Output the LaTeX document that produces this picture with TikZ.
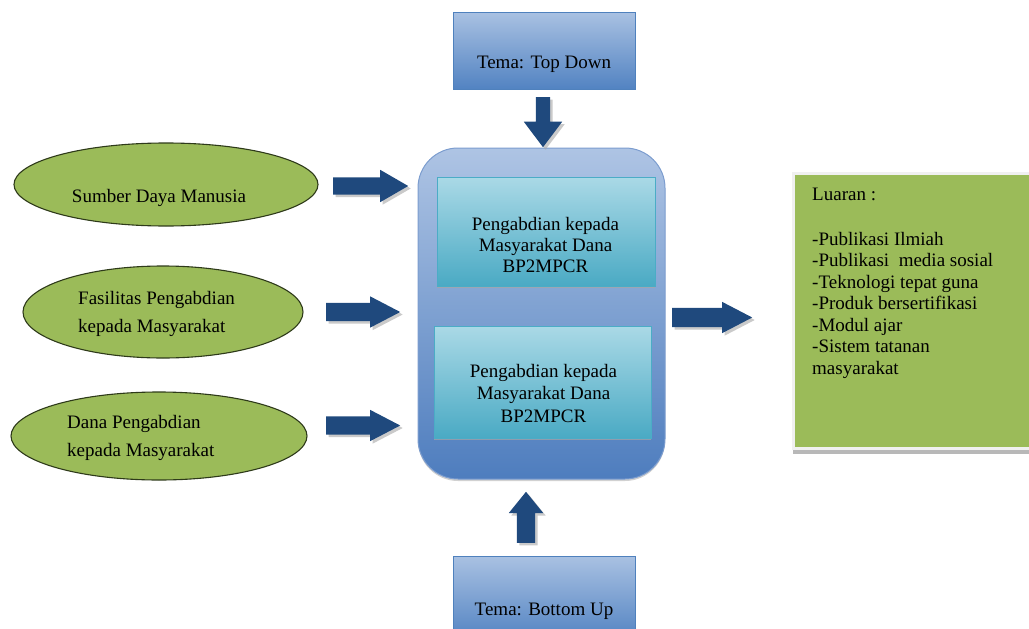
\documentclass[tikz,border=0pt]{standalone}
\usepackage{fontspec}
\setmainfont{Liberation Serif}
\usetikzlibrary{shapes.geometric,shapes.arrows,shadows}
\definecolor{arrowblue}{HTML}{1F497D}
\definecolor{boxtop}{HTML}{A9C1E2}
\definecolor{boxbot}{HTML}{5283C2}
\definecolor{boxline}{HTML}{4F81BD}
\definecolor{bigtop}{HTML}{AEC4E4}
\definecolor{bigbot}{HTML}{4E7DBE}
\definecolor{bigline}{HTML}{7C9DCF}
\definecolor{innertop}{HTML}{AAD9E6}
\definecolor{innerbot}{HTML}{4AAAC4}
\definecolor{innerline}{HTML}{4BACC6}
\definecolor{olivefill}{HTML}{9BBB59}
\definecolor{ellline}{HTML}{2E3A1A}
\begin{document}
\begin{tikzpicture}[x=1pt,y=-1pt,
  txt/.style={font=\rmfamily\fontsize{19}{21.5}\selectfont, inner sep=0pt, text=black},
  temabox/.style={rectangle, draw=boxline, line width=0.8pt, top color=boxtop,
    bottom color=boxbot, minimum width=182pt, inner sep=0pt},
  bigbox/.style={rectangle, rounded corners=40pt, draw=bigline, line width=1pt,
    top color=bigtop, bottom color=bigbot, minimum width=247pt, minimum height=331pt,
    inner sep=0pt, drop shadow={shadow xshift=0pt, shadow yshift=-2pt, fill=gray!60, opacity=0.6}},
  innerbox/.style={rectangle, draw=innerline, line width=0.6pt, top color=innertop,
    bottom color=innerbot, inner sep=0pt,
    drop shadow={shadow xshift=0pt, shadow yshift=-2pt, fill=gray!70, opacity=0.7}},
  oval/.style={ellipse, draw=ellline, line width=1.1pt, fill=olivefill, inner sep=0pt},
  barrow/.style={single arrow, fill=arrowblue, draw=none, anchor=tail,
    drop shadow={shadow xshift=2.5pt, shadow yshift=-2.5pt, fill=gray!70, opacity=0.6}},
  outbox/.style={rectangle, draw=gray!12, line width=3pt, fill=olivefill, inner sep=0pt,
    drop shadow={shadow xshift=0pt, shadow yshift=-6pt, fill=gray!70, opacity=0.8}}
]
\useasboundingbox (0,0) rectangle (1029,629);

% top and bottom theme boxes
\node[temabox, minimum height=77pt] (top) at (544,50.5) {};
\node[txt, anchor=base] (toptxt) at (544,68) {Tema: Top Down};
\node[temabox, minimum height=84pt] (bottom) at (544,598) {};
\node[txt, anchor=base] (bottomtxt) at (544,615) {Tema: Bottom Up};

% central box
\node[bigbox] (big) at (541.5,313.5) {};
\node[innerbox, minimum width=218pt, minimum height=109pt] (in1) at (546,231.5) {};
\node[txt, align=center, anchor=north, font=\rmfamily\fontsize{19}{21}\selectfont] (in1txt) at (545.5,217)
  {Pengabdian kepada\\Masyarakat Dana\\BP2MPCR};
\node[innerbox, minimum width=217pt, minimum height=112pt] (in2) at (542.5,382) {};
\node[txt, align=center, anchor=north, font=\rmfamily\fontsize{19}{22.5}\selectfont] (in2txt) at (543.5,364)
  {Pengabdian kepada\\Masyarakat Dana\\BP2MPCR};

% ellipses
\node[oval, minimum width=304pt, minimum height=83pt] (e1) at (166,184.5) {};
\node[txt, anchor=base] (e1txt) at (159,202) {Sumber Daya Manusia};
\node[oval, minimum width=280pt, minimum height=92pt] (e2) at (163,312) {};
\node[txt, align=left, anchor=north west, font=\rmfamily\fontsize{19}{28}\selectfont] (e2txt) at (78,291)
  {Fasilitas Pengabdian\\kepada Masyarakat};
\node[oval, minimum width=296pt, minimum height=88pt] (e3) at (159,436) {};
\node[txt, align=left, anchor=north west, font=\rmfamily\fontsize{19}{28}\selectfont] (e3txt) at (67,415)
  {Dana Pengabdian\\kepada Masyarakat};

% output box
\node[outbox, minimum width=242pt, minimum height=275pt] (out) at (914,310.5) {};
\node[txt, align=left, anchor=north west] (outtxt) at (812,187.5)
  {Luaran :\\[23.5pt]-Publikasi Ilmiah\\-Publikasi\ \ media sosial\\-Teknologi tepat guna\\-Produk bersertifikasi\\-Modul ajar\\-Sistem tatanan\\masyarakat};

% block arrows
\node[barrow, shape border rotate=270, inner sep=7pt, minimum height=50pt, minimum width=38pt,
  single arrow head extend=12pt, single arrow tip angle=74] (adown) at (543,97) {};
\node[barrow, shape border rotate=90, inner sep=9pt, minimum height=51pt, minimum width=34pt,
  single arrow head extend=8pt, single arrow tip angle=78] (aup) at (526,543) {};
\node[barrow, inner sep=8.5pt, minimum height=75pt, minimum width=32pt,
  single arrow head extend=7.5pt, single arrow tip angle=60] (a1) at (333,186) {};
\node[barrow, inner sep=9pt, minimum height=74pt, minimum width=31pt,
  single arrow head extend=6.5pt, single arrow tip angle=55] (a2) at (326,312) {};
\node[barrow, inner sep=9pt, minimum height=74pt, minimum width=31pt,
  single arrow head extend=6.5pt, single arrow tip angle=55] (a3) at (326,425.5) {};
\node[barrow, inner sep=9.5pt, minimum height=80pt, minimum width=31pt,
  single arrow head extend=6pt, single arrow tip angle=55] (aout) at (672,317.5) {};
\end{tikzpicture}
\end{document}
